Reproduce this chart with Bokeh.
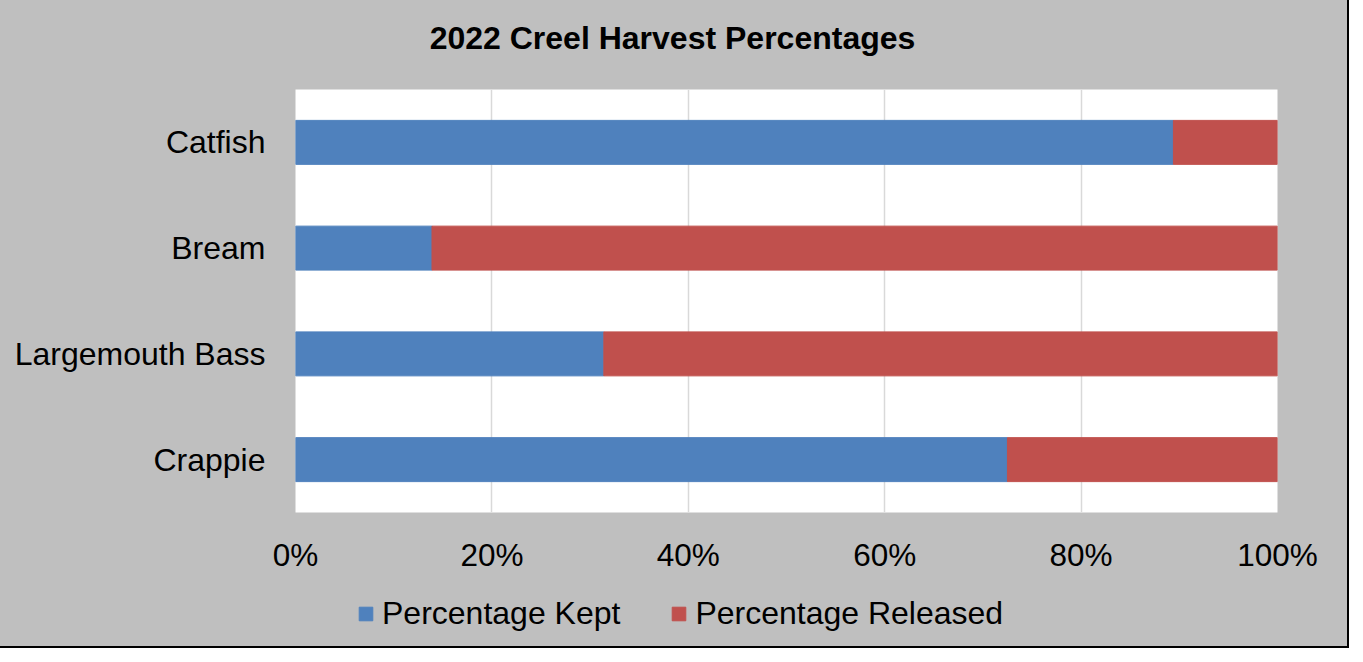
from bokeh.plotting import figure
from bokeh.layouts import column
from bokeh.models import (Range1d, FactorRange, NumeralTickFormatter, Legend,
                          LegendItem, FixedTicker, ColumnDataSource, Label)
from bokeh.embed import file_html
from bokeh.resources import INLINE

# ---- data ----
species = ["Catfish", "Bream", "Largemouth Bass", "Crappie"]
kept = [0.894, 0.139, 0.314, 0.725]
released = [0.106, 0.861, 0.686, 0.275]
x_ticks = [0, 0.2, 0.4, 0.6, 0.8, 1.0]
series_labels = ["Percentage Kept", "Percentage Released"]
title_text = "2022 Creel Harvest Percentages"

BLUE = "#4F81BD"
RED = "#C0504D"
BG = "#BFBFBF"
FONT = "Liberation Sans"

source = ColumnDataSource(dict(species=species, kept=kept, released=released))

W = 1347
H_TITLE = 70
H_MAIN = 515
H_LEG = 61


def strip(height):
    f = figure(
        width=W, height=height,
        x_range=Range1d(0, 1), y_range=FactorRange(factors=species[::-1]),
        x_axis_type=None, y_axis_type=None,
        output_backend="svg", toolbar_location=None,
        min_border_left=0, min_border_right=0, min_border_top=0, min_border_bottom=0,
    )
    f.background_fill_color = BG
    f.border_fill_color = BG
    f.outline_line_color = None
    f.grid.visible = False
    return f


# ---- title strip ----
pt = strip(H_TITLE)
pt.add_layout(Label(
    x=377, y=H_TITLE - 37, x_units="screen", y_units="screen",
    text=title_text, text_font=FONT, text_font_size="32px",
    text_font_style="bold", text_color="black",
    text_align="center", text_baseline="middle",
))

# ---- main chart ----
p = figure(
    width=W, height=H_MAIN,
    y_range=FactorRange(factors=species[::-1]),
    x_range=Range1d(0, 1),
    output_backend="svg", toolbar_location=None,
    min_border_left=295, min_border_right=70,
    min_border_top=19, min_border_bottom=73,
)
p.background_fill_color = "white"
p.border_fill_color = BG
p.outline_line_color = None

p.hbar_stack(["kept", "released"], y="species", height=0.416,
             color=[BLUE, RED], source=source)

p.xaxis.ticker = FixedTicker(ticks=x_ticks)
p.xaxis.formatter = NumeralTickFormatter(format="0%")
for ax in (p.xaxis, p.yaxis):
    ax.axis_line_color = None
    ax.major_tick_line_color = None
    ax.minor_tick_line_color = None
    ax.major_tick_out = 0
    ax.major_tick_in = 0
    ax.major_label_text_font = FONT
    ax.major_label_text_color = "black"
p.xaxis.major_label_text_font_size = "31.5px"
p.yaxis.major_label_text_font_size = "32px"
p.xaxis.major_label_standoff = 24
p.yaxis.major_label_standoff = 30

p.xgrid.ticker = FixedTicker(ticks=x_ticks)
p.xgrid.grid_line_color = "#D9D9D9"
p.xgrid.grid_line_width = 1.5
p.ygrid.grid_line_color = None

# ---- legend strip ----
pl = strip(H_LEG)
leg_renderers = pl.hbar_stack(["kept", "released"], y="species", height=0.416,
                              color=[BLUE, RED], source=source)
for r in leg_renderers:
    r.visible = False

legend = Legend(
    items=[LegendItem(label=series_labels[i], renderers=[leg_renderers[i]]) for i in range(2)],
    orientation="horizontal",
    location=(62, 14),
    glyph_width=17, glyph_height=17,
    label_standoff=8, spacing=50,
    padding=0, margin=0,
    label_text_font=FONT, label_text_font_size="32px", label_text_color="black",
    border_line_alpha=0, background_fill_alpha=0,
    inactive_fill_alpha=0,
)
pl.add_layout(legend)

layout = column(pt, p, pl, spacing=0,
                styles={"outline": "2px solid black", "background-color": BG})

open("out.html", "w").write(file_html(layout, INLINE))
